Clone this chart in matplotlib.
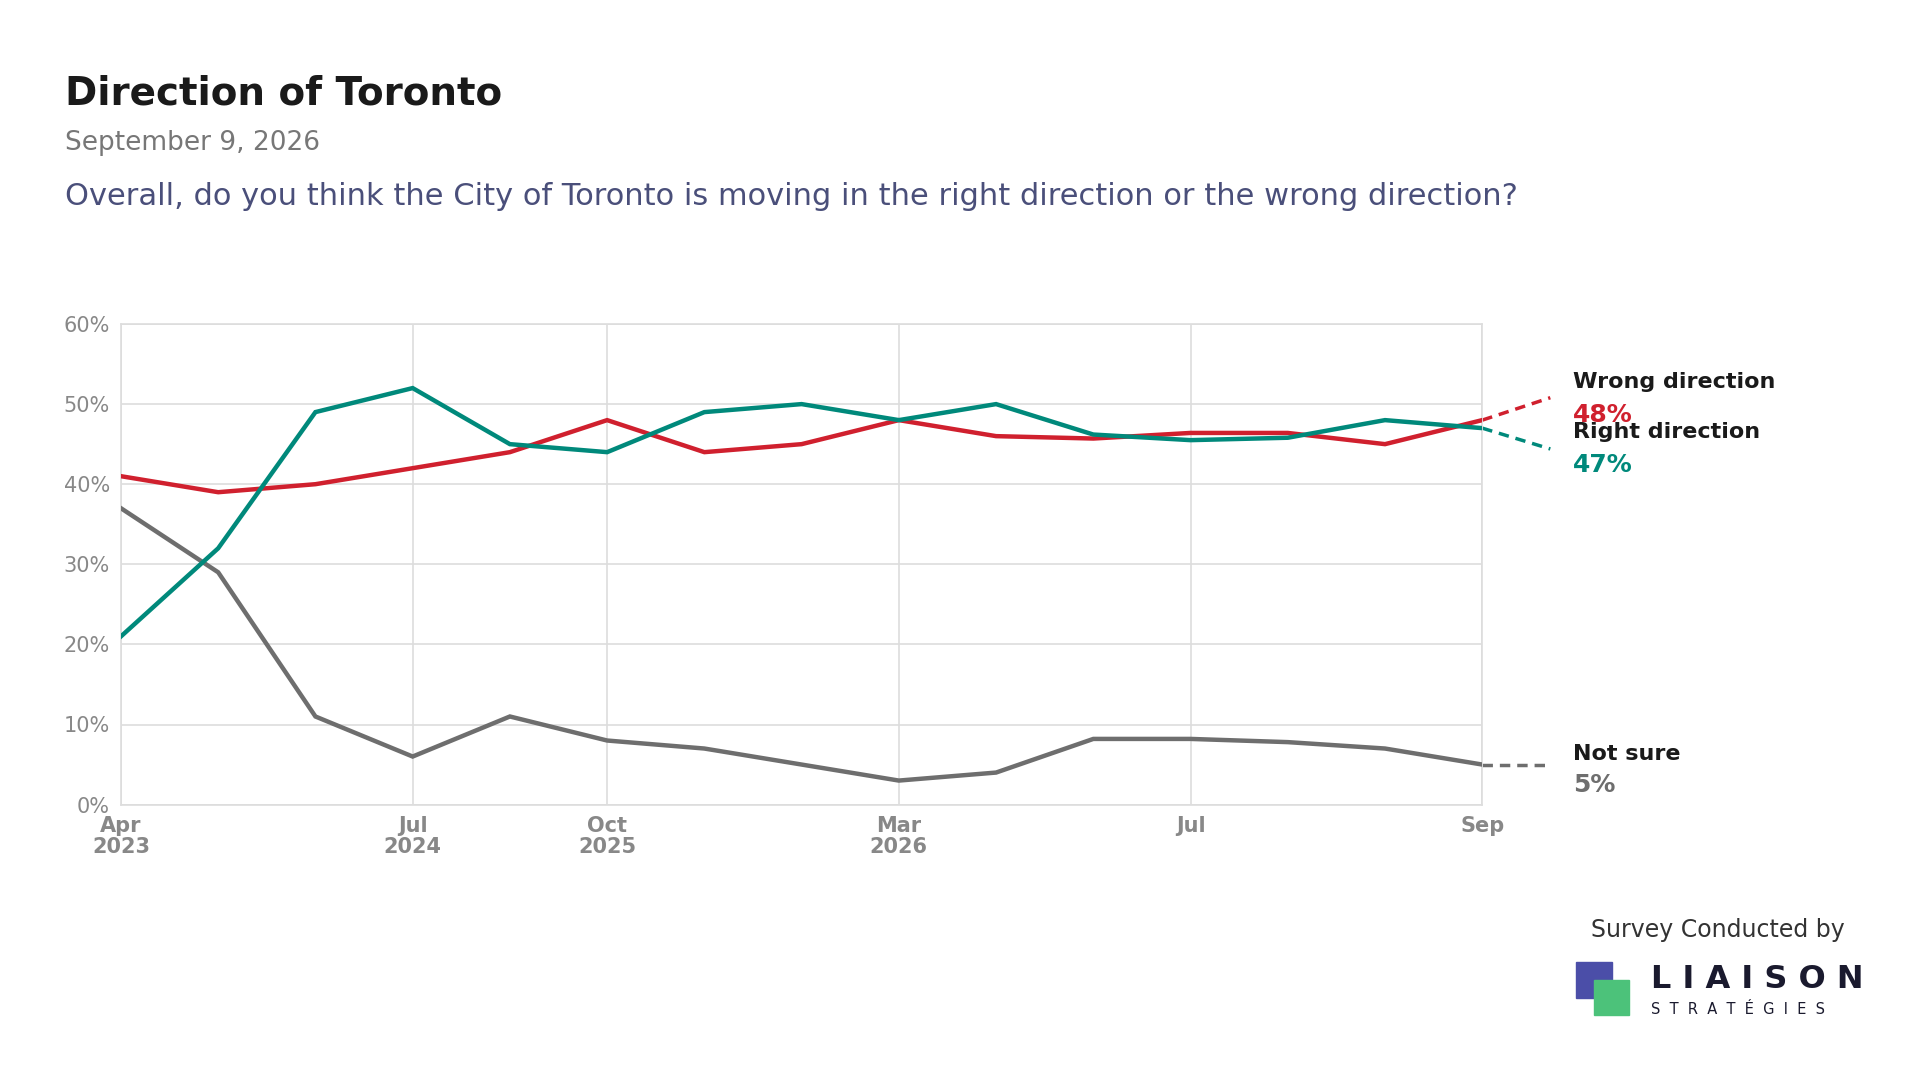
import matplotlib.pyplot as plt
from matplotlib.patches import Rectangle

wrong = [41, 39, 40, 42, 44, 48, 44, 45, 48, 46, 45.7, 46.4, 46.4, 45, 48]
right = [21, 32, 49, 52, 45, 44, 49, 50, 48, 50, 46.2, 45.5, 45.8, 48, 47]
not_sure = [37, 29, 11, 6, 11, 8, 7, 5, 3, 4, 8.2, 8.2, 7.8, 7, 5]
tick_idx = [0, 3, 5, 8, 11, 14]
tick_labels = ['Apr\n2023', 'Jul\n2024', 'Oct\n2025', 'Mar\n2026', 'Jul', 'Sep']
end_points = [50.8, 44.4, 5]  # where dashed leaders meet the labels

RED, TEAL, GREY = '#d0202e', '#00897b', '#6e6e6e'

fig = plt.figure(figsize=(19.2, 10.8), dpi=100)
ax = fig.add_axes([0.063, 0.255, 0.709, 0.445])
x = list(range(len(wrong)))
for ys, c in [(not_sure, GREY), (wrong, RED), (right, TEAL)]:
    ax.plot(x, ys, color=c, lw=3.2, solid_joinstyle='miter', zorder=3)

xe = 14 + 0.7
for ys, end, c in [(wrong, end_points[0], RED), (right, end_points[1], TEAL), (not_sure, end_points[2], GREY)]:
    ax.plot([14, xe], [ys[-1], end], color=c, lw=2.5, ls=(0, (3, 2)), clip_on=False)

ax.set_xlim(0, 14)
ax.set_ylim(0, 60)
ax.set_yticks(range(0, 61, 10))
ax.set_yticklabels([f'{v}%' for v in range(0, 61, 10)])
ax.set_xticks(tick_idx)
ax.set_xticklabels(tick_labels, fontweight='bold', linespacing=1.05)
ax.tick_params(length=0, labelsize=15, labelcolor='#888888', pad=8)
ax.grid(color='#dddddd', lw=1.2)
for s in ax.spines.values():
    s.set_color('#dddddd')
    s.set_linewidth(1.2)

lx = 14.93
ax.text(lx, 52.8, 'Wrong direction', fontsize=16, fontweight='bold', color='#1a1a1a', va='center')
ax.text(lx, 48.7, '48%', fontsize=18, fontweight='bold', color=RED, va='center')
ax.text(lx, 46.5, 'Right direction', fontsize=16, fontweight='bold', color='#1a1a1a', va='center')
ax.text(lx, 42.4, '47%', fontsize=18, fontweight='bold', color=TEAL, va='center')
ax.text(lx, 6.3, 'Not sure', fontsize=16, fontweight='bold', color='#1a1a1a', va='center')
ax.text(lx, 2.5, '5%', fontsize=18, fontweight='bold', color=GREY, va='center')

fig.text(0.034, 0.913, 'Direction of Toronto', fontsize=28, fontweight='bold', color='#1a1a1a', va='center')
fig.text(0.034, 0.868, 'September 9, 2026', fontsize=19, color='#777777', va='center')
fig.text(0.034, 0.818, 'Overall, do you think the City of Toronto is moving in the right direction or the wrong direction?',
         fontsize=22, color='#4a4f7a', va='center')

fig.text(0.961, 0.139, 'Survey Conducted by', fontsize=17, color='#333333', ha='right', va='center')
fig.patches.append(Rectangle((0.821, 0.076), 0.0185, 0.033, color='#4b4ea8', transform=fig.transFigure))
fig.patches.append(Rectangle((0.830, 0.060), 0.0185, 0.033, color='#4cc27a', transform=fig.transFigure))
fig.text(0.860, 0.093, 'L I A I S O N', fontsize=23, fontweight='bold', color='#1a1a2e', va='center')
fig.text(0.860, 0.065, 'S  T  R  A  T  É  G  I  E  S', fontsize=10.5, color='#1a1a2e', va='center')

fig.savefig('out.png', dpi=100, facecolor='white')
